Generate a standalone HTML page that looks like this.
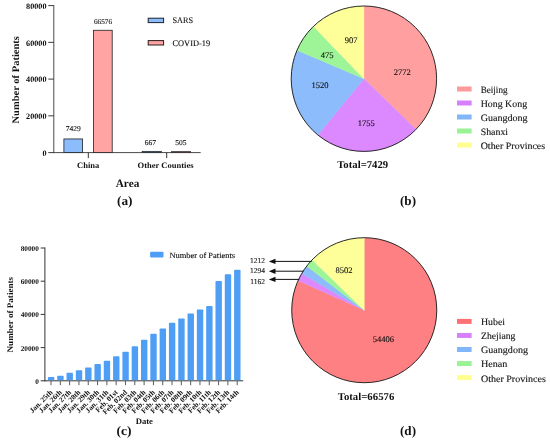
<!DOCTYPE html>
<html><head><meta charset="utf-8"><title>Figure</title>
<style>
html,body{margin:0;padding:0;background:#fff;}
svg{display:block;text-rendering:geometricPrecision;font-family:"Liberation Serif","DejaVu Serif",serif;fill:#111}
</style></head><body>
<svg width="550" height="442" viewBox="0 0 550 442">
<rect x="0" y="0" width="550" height="442" fill="#ffffff"/>
<line x1="53.80" y1="5.10" x2="53.80" y2="153.10" stroke="#4a4a4a" stroke-width="1"/>
<line x1="53.30" y1="152.60" x2="200.70" y2="152.60" stroke="#4a4a4a" stroke-width="1"/>
<line x1="48.30" y1="152.60" x2="53.80" y2="152.60" stroke="#3a3a3a" stroke-width="1"/>
<text x="46.50" y="155.90" font-size="8.2" text-anchor="end" font-weight="bold">0</text>
<line x1="48.30" y1="115.85" x2="53.80" y2="115.85" stroke="#3a3a3a" stroke-width="1"/>
<text x="46.50" y="119.15" font-size="8.2" text-anchor="end" font-weight="bold">20000</text>
<line x1="48.30" y1="79.10" x2="53.80" y2="79.10" stroke="#3a3a3a" stroke-width="1"/>
<text x="46.50" y="82.40" font-size="8.2" text-anchor="end" font-weight="bold">40000</text>
<line x1="48.30" y1="42.35" x2="53.80" y2="42.35" stroke="#3a3a3a" stroke-width="1"/>
<text x="46.50" y="45.65" font-size="8.2" text-anchor="end" font-weight="bold">60000</text>
<line x1="48.30" y1="5.60" x2="53.80" y2="5.60" stroke="#3a3a3a" stroke-width="1"/>
<text x="46.50" y="8.90" font-size="8.2" text-anchor="end" font-weight="bold">80000</text>
<rect x="63.90" y="138.95" width="18.70" height="13.65" fill="#8cbcfb" stroke="#222" stroke-width="0.8"/>
<rect x="93.40" y="30.27" width="18.80" height="122.33" fill="#ffa3a3" stroke="#222" stroke-width="0.8"/>
<rect x="142.20" y="151.37" width="19.10" height="1.23" fill="#8cbcfb" stroke="#222" stroke-width="0.8"/>
<rect x="171.50" y="151.67" width="19.10" height="0.93" fill="#ffa3a3" stroke="#222" stroke-width="0.8"/>
<text x="73.30" y="130.70" font-size="7.5" text-anchor="middle" stroke="#111" stroke-width="0.12">7429</text>
<text x="103.00" y="23.80" font-size="7.2" text-anchor="middle" stroke="#111" stroke-width="0.12">66576</text>
<text x="150.40" y="144.80" font-size="7.5" text-anchor="middle" stroke="#111" stroke-width="0.12">667</text>
<text x="180.90" y="144.80" font-size="7.5" text-anchor="middle" stroke="#111" stroke-width="0.12">505</text>
<line x1="88.30" y1="152.60" x2="88.30" y2="158.10" stroke="#333" stroke-width="1"/>
<line x1="166.70" y1="152.60" x2="166.70" y2="158.10" stroke="#333" stroke-width="1"/>
<text x="88.20" y="168.00" font-size="8.2" text-anchor="middle" font-weight="bold" textLength="22.2" lengthAdjust="spacingAndGlyphs">China</text>
<text x="165.60" y="168.00" font-size="8.2" text-anchor="middle" font-weight="bold" textLength="56.0" lengthAdjust="spacingAndGlyphs">Other Counties</text>
<text x="127.50" y="186.80" font-size="11.2" text-anchor="middle" font-weight="bold" textLength="23.5" lengthAdjust="spacingAndGlyphs">Area</text>
<text x="124.80" y="205.30" font-size="13" text-anchor="middle" font-weight="bold" textLength="15.5" lengthAdjust="spacingAndGlyphs">(a)</text>
<text x="19.00" y="79.80" font-size="10" text-anchor="middle" font-weight="bold" textLength="87.5" lengthAdjust="spacingAndGlyphs" transform="rotate(-90 19.00 79.80)">Number of Patients</text>
<rect x="148.20" y="18.20" width="15.40" height="4.40" fill="#8cbcfb" stroke="#1c2230" stroke-width="1.0"/>
<rect x="148.20" y="40.60" width="15.40" height="4.40" fill="#ffa3a3" stroke="#2a1c1c" stroke-width="1.0"/>
<text x="172.50" y="23.20" font-size="8.5" text-anchor="start" stroke="#111" stroke-width="0.12" textLength="20.6" lengthAdjust="spacingAndGlyphs">SARS</text>
<text x="172.50" y="45.50" font-size="8.5" text-anchor="start" stroke="#111" stroke-width="0.12" textLength="37.6" lengthAdjust="spacingAndGlyphs">COVID-19</text>
<path d="M363.90 78.70L363.90 6.00A72.7 72.7 0 0 1 415.91 129.50Z" fill="#ff9f9f" stroke="#ff9f9f" stroke-width="0.4"/>
<path d="M363.90 78.70L415.91 129.50A72.7 72.7 0 0 1 317.78 134.90Z" fill="#dc88ff" stroke="#dc88ff" stroke-width="0.4"/>
<path d="M363.90 78.70L317.78 134.90A72.7 72.7 0 0 1 296.99 50.26Z" fill="#8cbcfb" stroke="#8cbcfb" stroke-width="0.4"/>
<path d="M363.90 78.70L296.99 50.26A72.7 72.7 0 0 1 313.44 26.36Z" fill="#9ef597" stroke="#9ef597" stroke-width="0.4"/>
<path d="M363.90 78.70L313.44 26.36A72.7 72.7 0 0 1 363.90 6.00Z" fill="#ffff99" stroke="#ffff99" stroke-width="0.4"/>
<circle cx="363.9" cy="78.7" r="72.7" fill="none" stroke="#2a2a2a" stroke-width="1"/>
<text x="402.30" y="74.60" font-size="8.5" text-anchor="middle" stroke="#111" stroke-width="0.12">2772</text>
<text x="351.20" y="43.20" font-size="8.5" text-anchor="middle" stroke="#111" stroke-width="0.12">907</text>
<text x="327.20" y="57.50" font-size="8.5" text-anchor="middle" stroke="#111" stroke-width="0.12">475</text>
<text x="319.90" y="88.40" font-size="8.5" text-anchor="middle" stroke="#111" stroke-width="0.12">1520</text>
<text x="366.30" y="125.70" font-size="8.5" text-anchor="middle" stroke="#111" stroke-width="0.12">1755</text>
<text x="362.70" y="167.80" font-size="10.5" text-anchor="middle" font-weight="bold" textLength="51.0" lengthAdjust="spacingAndGlyphs">Total=7429</text>
<text x="408.00" y="204.80" font-size="13" text-anchor="middle" font-weight="bold" textLength="16.0" lengthAdjust="spacingAndGlyphs">(b)</text>
<rect x="457.00" y="86.50" width="14.60" height="5.00" fill="#ff9a9a"/>
<text x="480.70" y="93.10" font-size="9.7" text-anchor="start" stroke="#111" stroke-width="0.12" textLength="26.8" lengthAdjust="spacingAndGlyphs">Beijing</text>
<rect x="457.00" y="100.50" width="14.60" height="5.00" fill="#d680fd"/>
<text x="480.70" y="107.10" font-size="9.7" text-anchor="start" stroke="#111" stroke-width="0.12" textLength="46.4" lengthAdjust="spacingAndGlyphs">Hong Kong</text>
<rect x="457.00" y="114.50" width="14.60" height="5.00" fill="#82b6fa"/>
<text x="480.70" y="121.10" font-size="9.7" text-anchor="start" stroke="#111" stroke-width="0.12" textLength="46.8" lengthAdjust="spacingAndGlyphs">Guangdong</text>
<rect x="457.00" y="128.50" width="14.60" height="5.00" fill="#9bf294"/>
<text x="480.70" y="135.10" font-size="9.7" text-anchor="start" stroke="#111" stroke-width="0.12" textLength="27.4" lengthAdjust="spacingAndGlyphs">Shanxi</text>
<rect x="457.00" y="142.50" width="14.60" height="5.00" fill="#ffff90"/>
<text x="480.70" y="149.10" font-size="9.7" text-anchor="start" stroke="#111" stroke-width="0.12" textLength="64.4" lengthAdjust="spacingAndGlyphs">Other Provinces</text>
<path d="M364.25 310.20L364.25 237.70A72.5 72.5 0 1 1 298.12 280.49Z" fill="#ff8083" stroke="#ff8083" stroke-width="0.4"/>
<path d="M364.25 310.20L298.12 280.49A72.5 72.5 0 0 1 301.77 273.43Z" fill="#dc88ff" stroke="#dc88ff" stroke-width="0.4"/>
<path d="M364.25 310.20L301.77 273.43A72.5 72.5 0 0 1 306.71 266.09Z" fill="#8cbcfb" stroke="#8cbcfb" stroke-width="0.4"/>
<path d="M364.25 310.20L306.71 266.09A72.5 72.5 0 0 1 312.12 259.81Z" fill="#9ef597" stroke="#9ef597" stroke-width="0.4"/>
<path d="M364.25 310.20L312.12 259.81A72.5 72.5 0 0 1 364.25 237.70Z" fill="#ffff99" stroke="#ffff99" stroke-width="0.4"/>
<circle cx="364.25" cy="310.2" r="72.5" fill="none" stroke="#2a2a2a" stroke-width="1"/>
<text x="343.90" y="272.80" font-size="8.5" text-anchor="middle" stroke="#111" stroke-width="0.12">8502</text>
<text x="383.40" y="342.40" font-size="8.5" text-anchor="middle" stroke="#111" stroke-width="0.12">54406</text>
<text x="366.00" y="400.00" font-size="10.5" text-anchor="middle" font-weight="bold" textLength="56.6" lengthAdjust="spacingAndGlyphs">Total=66576</text>
<text x="408.00" y="434.50" font-size="13" text-anchor="middle" font-weight="bold" textLength="16.0" lengthAdjust="spacingAndGlyphs">(d)</text>
<rect x="457.00" y="318.90" width="14.60" height="5.00" fill="#ff7072"/>
<text x="481.00" y="325.30" font-size="9.7" text-anchor="start" stroke="#111" stroke-width="0.12" textLength="24.1" lengthAdjust="spacingAndGlyphs">Hubei</text>
<rect x="457.00" y="332.95" width="14.60" height="5.00" fill="#d680fd"/>
<text x="481.00" y="339.35" font-size="9.7" text-anchor="start" stroke="#111" stroke-width="0.12" textLength="34.4" lengthAdjust="spacingAndGlyphs">Zhejiang</text>
<rect x="457.00" y="347.00" width="14.60" height="5.00" fill="#82b6fa"/>
<text x="481.00" y="353.40" font-size="9.7" text-anchor="start" stroke="#111" stroke-width="0.12" textLength="47.0" lengthAdjust="spacingAndGlyphs">Guangdong</text>
<rect x="457.00" y="361.05" width="14.60" height="5.00" fill="#9bf294"/>
<text x="481.00" y="367.45" font-size="9.7" text-anchor="start" stroke="#111" stroke-width="0.12" textLength="26.4" lengthAdjust="spacingAndGlyphs">Henan</text>
<rect x="457.00" y="375.10" width="14.60" height="5.00" fill="#ffff90"/>
<text x="481.00" y="381.50" font-size="9.7" text-anchor="start" stroke="#111" stroke-width="0.12" textLength="64.8" lengthAdjust="spacingAndGlyphs">Other Provinces</text>
<line x1="272.00" y1="261.40" x2="311.60" y2="261.40" stroke="#111" stroke-width="1"/>
<path d="M268.8 261.40L275.5 258.70L275.5 264.10Z" fill="#111"/>
<text x="257.60" y="262.50" font-size="7.5" text-anchor="middle" stroke="#111" stroke-width="0.12">1212</text>
<line x1="272.00" y1="271.20" x2="303.40" y2="271.20" stroke="#111" stroke-width="1"/>
<path d="M268.8 271.20L275.5 268.50L275.5 273.90Z" fill="#111"/>
<text x="257.60" y="272.50" font-size="7.5" text-anchor="middle" stroke="#111" stroke-width="0.12">1294</text>
<line x1="272.00" y1="279.40" x2="299.20" y2="279.40" stroke="#111" stroke-width="1"/>
<path d="M268.8 279.40L275.5 276.70L275.5 282.10Z" fill="#111"/>
<text x="257.60" y="283.60" font-size="7.5" text-anchor="middle" stroke="#111" stroke-width="0.12">1162</text>
<line x1="44.90" y1="247.50" x2="44.90" y2="381.30" stroke="#333" stroke-width="1"/>
<line x1="44.40" y1="380.80" x2="243.20" y2="380.80" stroke="#333" stroke-width="1"/>
<line x1="40.70" y1="380.80" x2="44.90" y2="380.80" stroke="#333" stroke-width="1"/>
<text x="38.90" y="383.70" font-size="7.3" text-anchor="end" font-weight="bold">0</text>
<line x1="40.70" y1="347.60" x2="44.90" y2="347.60" stroke="#333" stroke-width="1"/>
<text x="38.90" y="350.50" font-size="7.3" text-anchor="end" font-weight="bold">20000</text>
<line x1="40.70" y1="314.40" x2="44.90" y2="314.40" stroke="#333" stroke-width="1"/>
<text x="38.90" y="317.30" font-size="7.3" text-anchor="end" font-weight="bold">40000</text>
<line x1="40.70" y1="281.20" x2="44.90" y2="281.20" stroke="#333" stroke-width="1"/>
<text x="38.90" y="284.10" font-size="7.3" text-anchor="end" font-weight="bold">60000</text>
<line x1="40.70" y1="248.00" x2="44.90" y2="248.00" stroke="#333" stroke-width="1"/>
<text x="38.90" y="250.90" font-size="7.3" text-anchor="end" font-weight="bold">80000</text>
<path d="M47.90 380.30V377.72q0 -0.8 0.8 -0.8h4.8q0.8 0 0.8 0.8V380.30Z" fill="#4f9ef6"/>
<line x1="51.00" y1="380.80" x2="51.00" y2="385.20" stroke="#4a4a4a" stroke-width="0.9"/>
<text x="53.10" y="392.80" font-size="7.4" text-anchor="end" font-weight="bold" transform="rotate(-45 53.10 392.80)">Jan. 25th</text>
<path d="M57.21 380.30V376.44q0 -0.8 0.8 -0.8h4.8q0.8 0 0.8 0.8V380.30Z" fill="#4f9ef6"/>
<line x1="60.31" y1="380.80" x2="60.31" y2="385.20" stroke="#4a4a4a" stroke-width="0.9"/>
<text x="62.41" y="392.80" font-size="7.4" text-anchor="end" font-weight="bold" transform="rotate(-45 62.41 392.80)">Jan. 26th</text>
<path d="M66.52 380.30V373.51q0 -0.8 0.8 -0.8h4.8q0.8 0 0.8 0.8V380.30Z" fill="#4f9ef6"/>
<line x1="69.62" y1="380.80" x2="69.62" y2="385.20" stroke="#4a4a4a" stroke-width="0.9"/>
<text x="71.72" y="392.80" font-size="7.4" text-anchor="end" font-weight="bold" transform="rotate(-45 71.72 392.80)">Jan. 27th</text>
<path d="M75.83 380.30V371.08q0 -0.8 0.8 -0.8h4.8q0.8 0 0.8 0.8V380.30Z" fill="#4f9ef6"/>
<line x1="78.93" y1="380.80" x2="78.93" y2="385.20" stroke="#4a4a4a" stroke-width="0.9"/>
<text x="81.03" y="392.80" font-size="7.4" text-anchor="end" font-weight="bold" transform="rotate(-45 81.03 392.80)">Jan. 28th</text>
<path d="M85.14 380.30V368.20q0 -0.8 0.8 -0.8h4.8q0.8 0 0.8 0.8V380.30Z" fill="#4f9ef6"/>
<line x1="88.24" y1="380.80" x2="88.24" y2="385.20" stroke="#4a4a4a" stroke-width="0.9"/>
<text x="90.34" y="392.80" font-size="7.4" text-anchor="end" font-weight="bold" transform="rotate(-45 90.34 392.80)">Jan. 29th</text>
<path d="M94.45 380.30V364.91q0 -0.8 0.8 -0.8h4.8q0.8 0 0.8 0.8V380.30Z" fill="#4f9ef6"/>
<line x1="97.55" y1="380.80" x2="97.55" y2="385.20" stroke="#4a4a4a" stroke-width="0.9"/>
<text x="99.65" y="392.80" font-size="7.4" text-anchor="end" font-weight="bold" transform="rotate(-45 99.65 392.80)">Jan. 30th</text>
<path d="M103.76 380.30V361.43q0 -0.8 0.8 -0.8h4.8q0.8 0 0.8 0.8V380.30Z" fill="#4f9ef6"/>
<line x1="106.86" y1="380.80" x2="106.86" y2="385.20" stroke="#4a4a4a" stroke-width="0.9"/>
<text x="108.96" y="392.80" font-size="7.4" text-anchor="end" font-weight="bold" transform="rotate(-45 108.96 392.80)">Jan. 31th</text>
<path d="M113.07 380.30V357.13q0 -0.8 0.8 -0.8h4.8q0.8 0 0.8 0.8V380.30Z" fill="#4f9ef6"/>
<line x1="116.17" y1="380.80" x2="116.17" y2="385.20" stroke="#4a4a4a" stroke-width="0.9"/>
<text x="118.27" y="392.80" font-size="7.4" text-anchor="end" font-weight="bold" transform="rotate(-45 118.27 392.80)">Feb. 01st</text>
<path d="M122.38 380.30V352.44q0 -0.8 0.8 -0.8h4.8q0.8 0 0.8 0.8V380.30Z" fill="#4f9ef6"/>
<line x1="125.48" y1="380.80" x2="125.48" y2="385.20" stroke="#4a4a4a" stroke-width="0.9"/>
<text x="127.58" y="392.80" font-size="7.4" text-anchor="end" font-weight="bold" transform="rotate(-45 127.58 392.80)">Feb. 02nd</text>
<path d="M131.69 380.30V347.07q0 -0.8 0.8 -0.8h4.8q0.8 0 0.8 0.8V380.30Z" fill="#4f9ef6"/>
<line x1="134.79" y1="380.80" x2="134.79" y2="385.20" stroke="#4a4a4a" stroke-width="0.9"/>
<text x="136.89" y="392.80" font-size="7.4" text-anchor="end" font-weight="bold" transform="rotate(-45 136.89 392.80)">Feb. 03th</text>
<path d="M141.00 380.30V340.62q0 -0.8 0.8 -0.8h4.8q0.8 0 0.8 0.8V380.30Z" fill="#4f9ef6"/>
<line x1="144.10" y1="380.80" x2="144.10" y2="385.20" stroke="#4a4a4a" stroke-width="0.9"/>
<text x="146.20" y="392.80" font-size="7.4" text-anchor="end" font-weight="bold" transform="rotate(-45 146.20 392.80)">Feb. 04th</text>
<path d="M150.31 380.30V334.49q0 -0.8 0.8 -0.8h4.8q0.8 0 0.8 0.8V380.30Z" fill="#4f9ef6"/>
<line x1="153.41" y1="380.80" x2="153.41" y2="385.20" stroke="#4a4a4a" stroke-width="0.9"/>
<text x="155.51" y="392.80" font-size="7.4" text-anchor="end" font-weight="bold" transform="rotate(-45 155.51 392.80)">Feb. 05th</text>
<path d="M159.62 380.30V329.27q0 -0.8 0.8 -0.8h4.8q0.8 0 0.8 0.8V380.30Z" fill="#4f9ef6"/>
<line x1="162.72" y1="380.80" x2="162.72" y2="385.20" stroke="#4a4a4a" stroke-width="0.9"/>
<text x="164.82" y="392.80" font-size="7.4" text-anchor="end" font-weight="bold" transform="rotate(-45 164.82 392.80)">Feb. 06th</text>
<path d="M168.93 380.30V323.65q0 -0.8 0.8 -0.8h4.8q0.8 0 0.8 0.8V380.30Z" fill="#4f9ef6"/>
<line x1="172.03" y1="380.80" x2="172.03" y2="385.20" stroke="#4a4a4a" stroke-width="0.9"/>
<text x="174.13" y="392.80" font-size="7.4" text-anchor="end" font-weight="bold" transform="rotate(-45 174.13 392.80)">Feb. 07th</text>
<path d="M178.24 380.30V319.25q0 -0.8 0.8 -0.8h4.8q0.8 0 0.8 0.8V380.30Z" fill="#4f9ef6"/>
<line x1="181.34" y1="380.80" x2="181.34" y2="385.20" stroke="#4a4a4a" stroke-width="0.9"/>
<text x="183.44" y="392.80" font-size="7.4" text-anchor="end" font-weight="bold" transform="rotate(-45 183.44 392.80)">Feb. 08th</text>
<path d="M187.55 380.30V314.32q0 -0.8 0.8 -0.8h4.8q0.8 0 0.8 0.8V380.30Z" fill="#4f9ef6"/>
<line x1="190.65" y1="380.80" x2="190.65" y2="385.20" stroke="#4a4a4a" stroke-width="0.9"/>
<text x="192.75" y="392.80" font-size="7.4" text-anchor="end" font-weight="bold" transform="rotate(-45 192.75 392.80)">Feb. 09th</text>
<path d="M196.86 380.30V310.22q0 -0.8 0.8 -0.8h4.8q0.8 0 0.8 0.8V380.30Z" fill="#4f9ef6"/>
<line x1="199.96" y1="380.80" x2="199.96" y2="385.20" stroke="#4a4a4a" stroke-width="0.9"/>
<text x="202.06" y="392.80" font-size="7.4" text-anchor="end" font-weight="bold" transform="rotate(-45 202.06 392.80)">Feb. 10th</text>
<path d="M206.17 380.30V306.88q0 -0.8 0.8 -0.8h4.8q0.8 0 0.8 0.8V380.30Z" fill="#4f9ef6"/>
<line x1="209.27" y1="380.80" x2="209.27" y2="385.20" stroke="#4a4a4a" stroke-width="0.9"/>
<text x="211.37" y="392.80" font-size="7.4" text-anchor="end" font-weight="bold" transform="rotate(-45 211.37 392.80)">Feb. 11th</text>
<path d="M215.48 380.30V281.73q0 -0.8 0.8 -0.8h4.8q0.8 0 0.8 0.8V380.30Z" fill="#4f9ef6"/>
<line x1="218.58" y1="380.80" x2="218.58" y2="385.20" stroke="#4a4a4a" stroke-width="0.9"/>
<text x="220.68" y="392.80" font-size="7.4" text-anchor="end" font-weight="bold" transform="rotate(-45 220.68 392.80)">Feb. 12th</text>
<path d="M224.79 380.30V275.01q0 -0.8 0.8 -0.8h4.8q0.8 0 0.8 0.8V380.30Z" fill="#4f9ef6"/>
<line x1="227.89" y1="380.80" x2="227.89" y2="385.20" stroke="#4a4a4a" stroke-width="0.9"/>
<text x="229.99" y="392.80" font-size="7.4" text-anchor="end" font-weight="bold" transform="rotate(-45 229.99 392.80)">Feb. 13th</text>
<path d="M234.10 380.30V270.48q0 -0.8 0.8 -0.8h4.8q0.8 0 0.8 0.8V380.30Z" fill="#4f9ef6"/>
<line x1="237.20" y1="380.80" x2="237.20" y2="385.20" stroke="#4a4a4a" stroke-width="0.9"/>
<text x="239.30" y="392.80" font-size="7.4" text-anchor="end" font-weight="bold" transform="rotate(-45 239.30 392.80)">Feb. 14th</text>
<text x="13.00" y="314.70" font-size="8.5" text-anchor="middle" font-weight="bold" textLength="75.5" lengthAdjust="spacingAndGlyphs" transform="rotate(-90 13.00 314.70)">Number of Patients</text>
<text x="144.30" y="423.60" font-size="8.5" text-anchor="middle" font-weight="bold" textLength="17.3" lengthAdjust="spacingAndGlyphs">Date</text>
<text x="124.00" y="434.50" font-size="13" text-anchor="middle" font-weight="bold" textLength="15.0" lengthAdjust="spacingAndGlyphs">(c)</text>
<rect x="150.1" y="251.8" width="13.4" height="5.8" rx="1" fill="#4f9ef6"/>
<text x="169.40" y="257.80" font-size="8" text-anchor="start" stroke="#111" stroke-width="0.12" textLength="65.7" lengthAdjust="spacingAndGlyphs">Number of Patients</text>
</svg>
</body></html>
